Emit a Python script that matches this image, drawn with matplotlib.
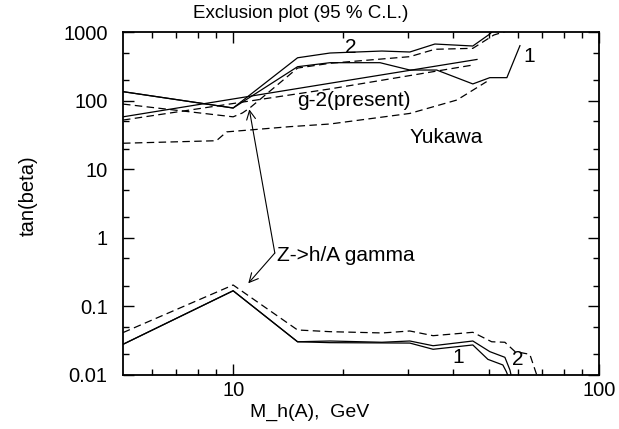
from matplotlib import pyplot as plt
from matplotlib.ticker import FixedLocator, NullFormatter

plt.rcParams['font.family'] = ['Liberation Sans', 'DejaVu Sans']
plt.rcParams['font.size'] = 14.5

# upper curves (tan beta large)
c1_x = [5, 10, 15, 18.4, 25.2, 30.4, 36.0, 45.2, 50.3, 56, 60.8]
c1_y = [135, 78, 312, 357, 357, 279, 279, 175, 216, 216, 632]

c2_x = [5, 10, 15, 18.4, 25.5, 30.4, 35.6, 45.2, 50.3, 51.6]
c2_y = [135, 78, 421, 494, 528, 511, 668, 625, 935, 1070]

c2d_x = [5, 10, 10.6, 11.1, 15, 18.4, 30.4, 35.6, 45.2, 51.6, 56]
c2d_y = [89, 58, 66, 78, 298, 350, 437, 560, 578, 904, 1035]

g2_x = [5, 18.4, 46.4]
g2_y = [58, 179, 398]

g2d_x = [5, 18.4, 45.2]
g2d_y = [52, 148, 330]

yuk_x = [5, 9.0, 9.6, 14.3, 18.4, 30.4, 40.9, 49.3]
yuk_y = [23.9, 26, 35, 41.7, 45.6, 65, 102, 189]

# lower curves (tan beta small)
low1_x = [5, 10, 15, 18.4, 30.4, 35.2, 45.2, 49.7, 54.6, 55.8, 56.5]
low1_y = [0.028, 0.169, 0.0305, 0.0296, 0.0292, 0.0237, 0.0274, 0.0169, 0.014, 0.0112, 0.0095]

low2_x = [5, 10, 15, 18.4, 25.5, 30.4, 35.2, 45.2, 50.3, 55.3, 57.1, 57.6]
low2_y = [0.028, 0.169, 0.0305, 0.0313, 0.030, 0.0313, 0.0267, 0.0313, 0.0219, 0.0181, 0.0118, 0.0095]

lowd_x = [5, 10, 15, 18.4, 25.6, 30.4, 35.2, 45.2, 50.9, 55.3, 58.9, 64.7, 67.8]
lowd_y = [0.0415, 0.205, 0.0453, 0.0428, 0.041, 0.0438, 0.0374, 0.0419, 0.0305, 0.030, 0.022, 0.020, 0.0095]

fig = plt.figure(figsize=(6.19, 4.29), dpi=100)
ax = fig.add_axes([0.1987, 0.1259, 0.769, 0.7995])

lw = 0.9
dash = (6, 3.5)
ax.plot(c1_x, c1_y, color='k', lw=lw)
ax.plot(c2_x, c2_y, color='k', lw=lw)
ax.plot(c2d_x, c2d_y, color='k', lw=lw, dashes=dash)
ax.plot(g2_x, g2_y, color='k', lw=lw)
ax.plot(g2d_x, g2d_y, color='k', lw=lw, dashes=dash)
ax.plot(yuk_x, yuk_y, color='k', lw=lw, dashes=dash)
ax.plot(low1_x, low1_y, color='k', lw=lw)
ax.plot(low2_x, low2_y, color='k', lw=lw)
ax.plot(lowd_x, lowd_y, color='k', lw=lw, dashes=dash)

ax.set_xscale('log')
ax.set_yscale('log')
ax.set_xlim(5, 100)
ax.set_ylim(0.01, 1000)

ax.xaxis.set_major_locator(FixedLocator([10, 100]))
ax.xaxis.set_minor_locator(FixedLocator([6, 7, 8, 9, 20, 30, 40, 50, 60, 70, 80, 90]))
ax.xaxis.set_minor_formatter(NullFormatter())
ax.set_xticklabels(['10', '100'])
yt = [0.01, 0.1, 1, 10, 100, 1000]
ax.yaxis.set_major_locator(FixedLocator(yt))
ax.set_yticklabels(['0.01', '0.1', '1', '10', '100', '1000'])
ax.yaxis.set_minor_locator(FixedLocator([0.02, 0.05, 0.2, 0.5, 2, 5, 20, 50, 200, 500]))
ax.yaxis.set_minor_formatter(NullFormatter())
ax.tick_params(which='both', direction='in', top=True, right=True, width=1)
ax.tick_params(which='major', length=8, pad=11)
ax.tick_params(which='minor', length=4)
ax.tick_params(axis='x', which='major', pad=4)
for s in ax.spines.values():
    s.set_linewidth(1.3)

fig.text(301 / 619, 1 - 13 / 429, 'Exclusion plot (95 % C.L.)', fontsize=13.5,
         ha='center', va='center')
fig.text(310 / 619, 1 - 412 / 429, 'M_h(A),  GeV', fontsize=14,
         ha='center', va='center')
fig.text(28 / 619, 1 - 196 / 429, 'tan(beta)', fontsize=14.5,
         ha='center', va='center', rotation=90)

ax.text(20.9, 603, '2', ha='center', va='center', fontsize=15)
ax.text(64.3, 433, '1', ha='center', va='center', fontsize=15)
ax.text(41.1, 0.0177, '1', ha='center', va='center', fontsize=15)
ax.text(60, 0.0166, '2', ha='center', va='center', fontsize=15)
ax.text(15.0, 102, 'g-2(present)', ha='left', va='center', fontsize=15)
ax.text(30.4, 28.5, 'Yukawa', ha='left', va='center', fontsize=15)
ax.text(13.2, 0.543, 'Z->h/A gamma', ha='left', va='center', fontsize=15)

arr = dict(arrowstyle='->', color='k', lw=0.8, mutation_scale=16, shrinkA=0, shrinkB=0)
ax.annotate('', xy=(11.07, 74.6), xytext=(13.0, 0.6), arrowprops=arr)
ax.annotate('', xy=(11.0, 0.217), xytext=(13.0, 0.6), arrowprops=arr)

fig.savefig('out.png', dpi=100)
